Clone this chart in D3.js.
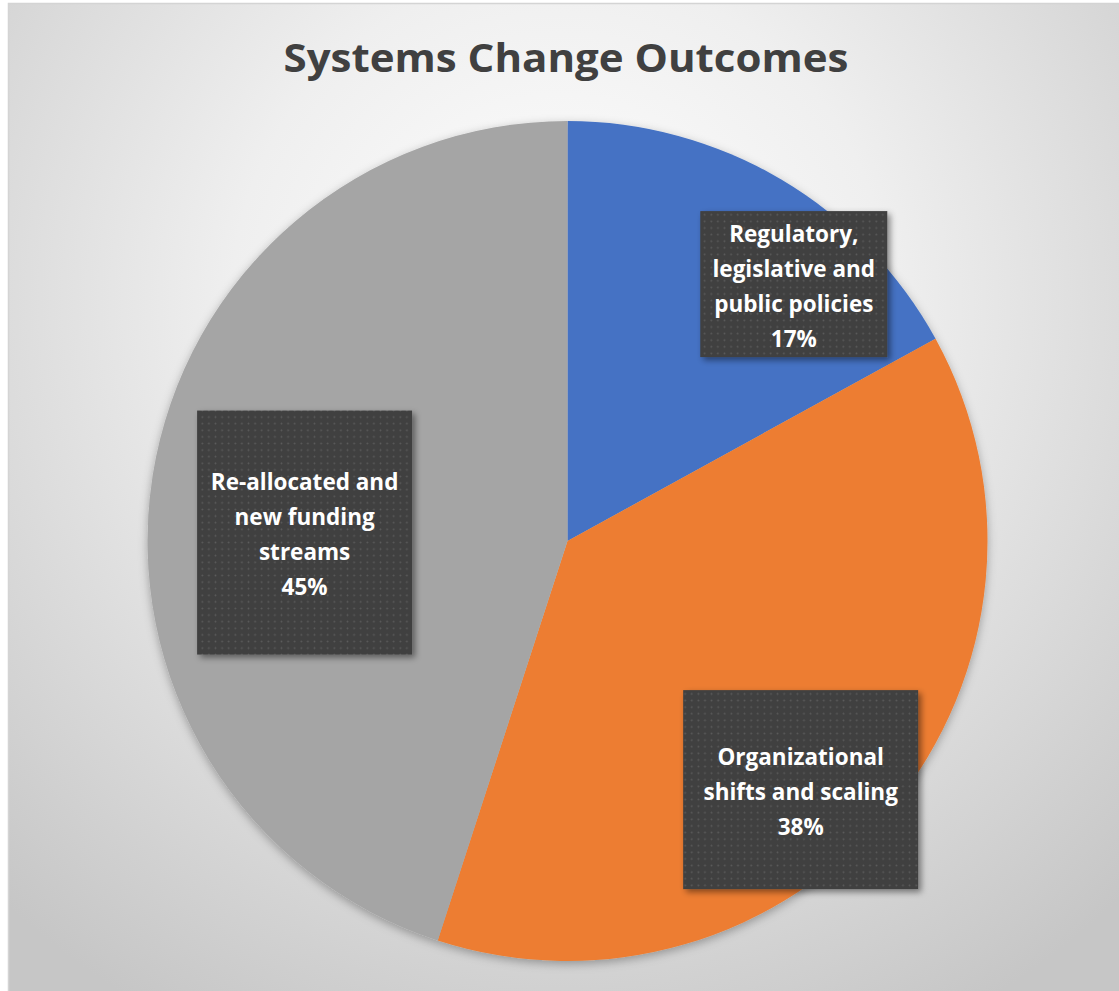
<!DOCTYPE html>
<html>
<head>
<meta charset="utf-8">
<script src="https://cdn.jsdelivr.net/npm/d3@7"></script>
<style>
  body { margin: 0; background: #fff; }
  svg { display: block; }
</style>
</head>
<body>
<div id="chart"></div>
<script>
// data
var categories = ["Regulatory, legislative and public policies", "Organizational shifts and scaling", "Re-allocated and new funding streams"];
var values = [17, 38, 45];
var labelLines = [
  ["Regulatory,", "legislative and", "public policies"],
  ["Organizational", "shifts and scaling"],
  ["Re-allocated and", "new funding", "streams"]
];
var colors = ["#4472C4", "#ED7D31", "#A5A5A5"];

var width = 1119, height = 991;
var cx = 567.5, cy = 541, radius = 420;

// label box sizes and nudges (layout only)
var boxSize = [[187, 146], [235, 199], [215, 244]];
var boxNudge = [[98, -40], [39, 88], [-14, 31]];

var svg = d3.select("#chart").append("svg")
    .attr("width", width)
    .attr("height", height);

var defs = svg.append("defs");

var bg = defs.append("radialGradient")
    .attr("id", "bg")
    .attr("gradientUnits", "userSpaceOnUse")
    .attr("cx", 560).attr("cy", 300).attr("r", 820);
bg.append("stop").attr("offset", "0%").attr("stop-color", "#ffffff");
bg.append("stop").attr("offset", "40%").attr("stop-color", "#efefef");
bg.append("stop").attr("offset", "100%").attr("stop-color", "#c6c6c6");

var dots = defs.append("pattern")
    .attr("id", "dots")
    .attr("patternUnits", "userSpaceOnUse")
    .attr("width", 6.6).attr("height", 6.6);
dots.append("rect").attr("width", 6.6).attr("height", 6.6).attr("fill", "#404040");
dots.append("circle").attr("cx", 3.3).attr("cy", 3.3).attr("r", 0.9).attr("fill", "#5c5c5c");

var pieShadow = defs.append("filter").attr("id", "pieShadow")
    .attr("x", "-10%").attr("y", "-10%").attr("width", "120%").attr("height", "120%");
pieShadow.append("feDropShadow")
    .attr("dx", 0).attr("dy", 3).attr("stdDeviation", 5)
    .attr("flood-color", "#000").attr("flood-opacity", 0.3);

var boxShadow = defs.append("filter").attr("id", "boxShadow")
    .attr("x", "-20%").attr("y", "-20%").attr("width", "140%").attr("height", "140%");
boxShadow.append("feDropShadow")
    .attr("dx", 3).attr("dy", 3).attr("stdDeviation", 3)
    .attr("flood-color", "#000").attr("flood-opacity", 0.45);

// chart area
svg.append("rect")
    .attr("x", 8.5).attr("y", 3.5)
    .attr("width", width).attr("height", height)
    .attr("fill", "url(#bg)")
    .attr("stroke", "#d4d4d4")
    .attr("stroke-width", 1.5);

svg.append("text")
    .attr("x", 566).attr("y", 72)
    .attr("text-anchor", "middle")
    .attr("textLength", 565)
    .attr("lengthAdjust", "spacingAndGlyphs")
    .style("font-family", "'Open Sans', Lato, sans-serif")
    .style("font-weight", "bold")
    .style("font-size", "40px")
    .style("fill", "#404040")
    .text("Systems Change Outcomes");

var pie = d3.pie().sort(null).value(function (d) { return d; });
var arcs = pie(values);
var arc = d3.arc().innerRadius(0).outerRadius(radius);
var labelArc = d3.arc().innerRadius(radius * 0.6).outerRadius(radius * 0.6);

var g = svg.append("g").attr("transform", "translate(" + cx + "," + cy + ")");

g.append("g").attr("filter", "url(#pieShadow)")
  .selectAll("path")
  .data(arcs)
  .enter()
  .append("path")
    .attr("d", arc)
    .attr("fill", function (d, i) { return colors[i]; });

var labels = g.selectAll(".label")
    .data(arcs)
    .enter()
    .append("g")
    .attr("class", "label")
    .attr("transform", function (d, i) {
      var c = labelArc.centroid(d);
      return "translate(" + (c[0] + boxNudge[i][0]) + "," + (c[1] + boxNudge[i][1]) + ")";
    });

labels.append("rect")
    .attr("x", function (d, i) { return -boxSize[i][0] / 2; })
    .attr("y", function (d, i) { return -boxSize[i][1] / 2; })
    .attr("width", function (d, i) { return boxSize[i][0]; })
    .attr("height", function (d, i) { return boxSize[i][1]; })
    .attr("fill", "url(#dots)")
    .attr("filter", "url(#boxShadow)");

var lineH = 35;
labels.each(function (d, i) {
  var lines = labelLines[i].concat([values[i] + "%"]);
  var t = d3.select(this).append("text")
      .attr("text-anchor", "middle")
      .style("font-family", "'Open Sans', Lato, sans-serif")
      .style("font-weight", "bold")
      .style("font-size", "22.5px")
      .style("fill", "#ffffff");
  var y0 = -(lines.length - 1) * lineH / 2 + 10;
  lines.forEach(function (s, k) {
    t.append("tspan").attr("x", 0).attr("y", y0 + k * lineH).text(s);
  });
});
</script>
</body>
</html>
